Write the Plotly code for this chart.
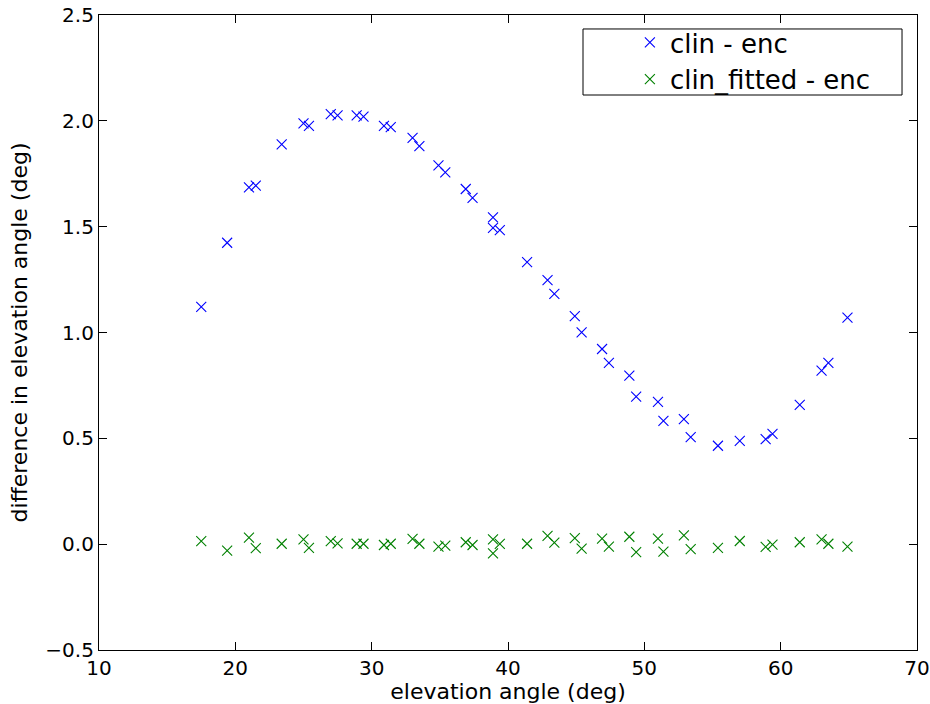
import plotly.graph_objects as go

elevation = [17.5, 19.4, 21.0, 21.5, 23.4, 25.0, 25.4, 27.0, 27.5, 28.9, 29.4, 30.9, 31.4,
             33.0, 33.5, 34.9, 35.4, 36.9, 37.4, 38.9, 38.9, 39.4, 41.4, 42.9, 43.4, 44.9,
             45.4, 46.9, 47.4, 48.9, 49.4, 51.0, 51.4, 52.9, 53.4, 55.4, 57.0, 58.9, 59.4,
             61.4, 63.0, 63.5, 64.9]

clin_minus_enc = [1.121, 1.424, 1.686, 1.694, 1.889, 1.988, 1.976, 2.032, 2.026, 2.026, 2.020,
                  1.976, 1.970, 1.920, 1.881, 1.790, 1.757, 1.678, 1.636, 1.544, 1.494, 1.484,
                  1.333, 1.247, 1.182, 1.077, 1.001, 0.922, 0.857, 0.796, 0.697, 0.672, 0.583,
                  0.591, 0.506, 0.465, 0.488, 0.496, 0.521, 0.658, 0.820, 0.857, 1.070]

clin_fitted_minus_enc = [0.014, -0.031, 0.031, -0.019, 0.002, 0.023, -0.017, 0.014, 0.004,
                         0.002, 0.002, -0.004, 0.002, 0.025, 0.002, -0.012, -0.007, 0.009,
                         -0.004, 0.023, -0.043, 0.001, 0.002, 0.039, 0.007, 0.029, -0.021,
                         0.026, -0.012, 0.035, -0.038, 0.026, -0.035, 0.042, -0.023, -0.018,
                         0.015, -0.013, -0.002, 0.009, 0.023, 0.002, -0.012]

x_ticks = [10, 20, 30, 40, 50, 60, 70]
y_ticks = [-0.5, 0.0, 0.5, 1.0, 1.5, 2.0, 2.5]

FONT = "DejaVu Sans"

fig = go.Figure()
fig.add_trace(go.Scatter(
    x=elevation, y=clin_minus_enc, mode="markers", name="clin - enc",
    marker=dict(symbol="x-thin", size=10, color="rgb(0,0,255)",
                line=dict(color="rgb(0,0,255)", width=1.1)),
))
fig.add_trace(go.Scatter(
    x=elevation, y=clin_fitted_minus_enc, mode="markers", name="clin_fitted - enc",
    marker=dict(symbol="x-thin", size=10, color="rgb(0,128,0)",
                line=dict(color="rgb(0,128,0)", width=1.1)),
))

axis_common = dict(
    showline=True, linecolor="black", linewidth=1.2, mirror="allticks",
    ticks="inside", ticklen=8, tickwidth=1, tickcolor="black",
    showgrid=False, zeroline=False, automargin=False,
    tickfont=dict(family=FONT, size=20, color="black"),
)

fig.update_xaxes(
    range=[10, 70], tickvals=x_ticks, ticktext=[str(v) for v in x_ticks],
    title=dict(text="elevation angle (deg)", font=dict(family=FONT, size=22, color="black")),
    **axis_common,
)
fig.update_yaxes(
    range=[-0.5, 2.5], tickvals=y_ticks, tickformat=".1f",
    title=dict(text="difference in elevation angle (deg)",
               font=dict(family=FONT, size=22, color="black"), standoff=11),
    **axis_common,
)

# legend frame (matplotlib-style box)
fig.add_shape(type="rect", xref="paper", yref="paper",
              x0=0.5917, x1=0.9817, y0=0.874, y1=0.978,
              line=dict(color="black", width=1), fillcolor="white", layer="above")

fig.update_layout(
    width=930, height=704,
    margin=dict(l=99, r=13, t=15, b=54),
    paper_bgcolor="white", plot_bgcolor="white",
    font=dict(family=FONT, size=20, color="black"),
    legend=dict(
        x=0.649, y=0.9937, xanchor="left", yanchor="top",
        bgcolor="rgba(0,0,0,0)", borderwidth=0,
        font=dict(family=FONT, size=26, color="black"),
        itemwidth=30, tracegroupgap=0,
    ),
    showlegend=True,
)

fig.write_html("out.html", config={"displayModeBar": False},
               post_script="document.body.style.margin='0px';")
